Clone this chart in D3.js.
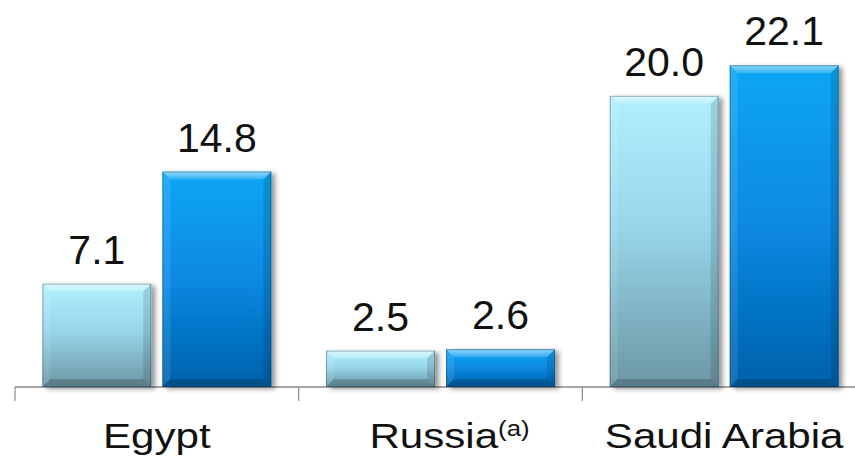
<!DOCTYPE html>
<html>
<head>
<meta charset="utf-8">
<script src="https://cdn.jsdelivr.net/npm/d3@7/dist/d3.min.js"></script>
<style>
  html, body { margin: 0; padding: 0; background: #fff; }
  svg { display: block; }
  text { font-family: "Liberation Sans", Arial, sans-serif; fill: #111; }
</style>
</head>
<body>
<svg id="chart" width="855" height="460"></svg>
<script>
// Data
const categories = ["Egypt", "Russia", "Saudi Arabia"];
const superscripts = ["", "(a)", ""];
const seriesNames = ["first", "second"];
const firstValues = [7.1, 2.5, 20.0];
const secondValues = [14.8, 2.6, 22.1];
const valueLabels = [["7.1", "2.5", "20.0"], ["14.8", "2.6", "22.1"]];

const W = 855, H = 460;
const baseline = 387;
const svg = d3.select("#chart");

const x = d3.scaleBand().domain(categories).range([15, 866]).paddingInner(0).paddingOuter(0);
const xs = d3.scaleBand().domain(seriesNames).range([0, x.bandwidth()])
  .paddingInner(0.092).paddingOuter(0.228);
const y = d3.scaleLinear().domain([0, 25]).range([baseline, 23]);

const defs = svg.append("defs");
const grads = {
  first: [["0%", "#b0f0fd"], ["45%", "#98d6ea"], ["100%", "#6c96a4"]],
  second: [["0%", "#07a6f5"], ["50%", "#0789e2"], ["100%", "#0561ab"]]
};
Object.entries(grads).forEach(([k, stops]) => {
  const g = defs.append("linearGradient").attr("id", "g-" + k)
    .attr("x1", 0).attr("y1", 0).attr("x2", 0).attr("y2", 1);
  stops.forEach(s => g.append("stop").attr("offset", s[0]).attr("stop-color", s[1]));
});
const tg = defs.append("linearGradient").attr("id", "bevelTop")
  .attr("x1", 0).attr("y1", 0).attr("x2", 0).attr("y2", 1);
tg.append("stop").attr("offset", "0%").attr("stop-color", "#fff").attr("stop-opacity", 0.55);
tg.append("stop").attr("offset", "100%").attr("stop-color", "#fff").attr("stop-opacity", 0.15);

const shadow = defs.append("filter").attr("id", "shadow")
  .attr("x", "-10%").attr("y", "-10%").attr("width", "130%").attr("height", "130%");
shadow.append("feDropShadow").attr("dx", 4).attr("dy", 2).attr("stdDeviation", 2.5)
  .attr("flood-color", "#000").attr("flood-opacity", 0.4);

// Axis baseline and category separators
const axis = d3.axisBottom(x).tickSize(0).tickFormat("");
const axisG = svg.append("g").attr("transform", `translate(0,${baseline})`).call(axis);
axisG.select(".domain").attr("stroke", "#8a8a8a").attr("stroke-width", 1.5)
  .attr("d", `M15,0H${W}`);
const bounds = categories.map(c => x(c)).concat([x(categories[categories.length - 1]) + x.bandwidth()]);
axisG.selectAll(".sep").data(bounds).join("line").attr("class", "sep")
  .attr("x1", d => d).attr("x2", d => d).attr("y1", 0).attr("y2", 14)
  .attr("stroke", "#8a8a8a").attr("stroke-width", 1.2);

// Bars
const rows = [];
categories.forEach((c, i) => {
  rows.push({ cat: c, s: "first", v: firstValues[i], label: valueLabels[0][i] });
  rows.push({ cat: c, s: "second", v: secondValues[i], label: valueLabels[1][i] });
});

const b = 8;
svg.append("g").selectAll("g.bar").data(rows).join("g").attr("class", "bar")
  .each(function (d) {
    const g = d3.select(this);
    const bx = x(d.cat) + xs(d.s), bw = xs.bandwidth();
    const by = y(d.v), bh = baseline - y(d.v);
    g.append("rect").attr("x", bx).attr("y", by).attr("width", bw).attr("height", bh)
      .attr("fill", `url(#g-${d.s})`).attr("filter", "url(#shadow)");
    const poly = pts => pts.map(p => p.join(",")).join(" ");
    g.append("polygon").attr("points", poly([[bx, by], [bx + bw, by], [bx + bw - b, by + b], [bx + b, by + b]]))
      .attr("fill", "url(#bevelTop)");
    g.append("polygon").attr("points", poly([[bx, by], [bx + b, by + b], [bx + b, by + bh - b], [bx, by + bh]]))
      .attr("fill", "#fff").attr("fill-opacity", 0.1);
    g.append("polygon").attr("points", poly([[bx + bw, by], [bx + bw, by + bh], [bx + bw - b, by + bh - b], [bx + bw - b, by + b]]))
      .attr("fill", "#000").attr("fill-opacity", 0.12);
    g.append("polygon").attr("points", poly([[bx, by + bh], [bx + bw, by + bh], [bx + bw - b, by + bh - b], [bx + b, by + bh - b]]))
      .attr("fill", "#000").attr("fill-opacity", 0.18);
    g.append("rect").attr("x", bx + 0.5).attr("y", by + 0.5).attr("width", bw - 1).attr("height", bh - 1)
      .attr("fill", "none").attr("stroke", "#0d2f45").attr("stroke-opacity", 0.35);
    g.append("text").attr("x", bx + bw / 2).attr("y", by - 20)
      .attr("text-anchor", "middle").attr("font-size", 41).text(d.label);
  });

// Category labels
categories.forEach((c, i) => {
  const cx = x(c) + x.bandwidth() / 2 + (superscripts[i] ? 9 : 0);
  const t = svg.append("text")
    .attr("transform", `translate(${cx},448) scale(1.17,1)`)
    .attr("text-anchor", "middle").attr("font-size", 36);
  t.append("tspan").text(c);
  if (superscripts[i]) {
    t.append("tspan").attr("font-size", 22).attr("dy", -12).text(superscripts[i]);
  }
});
</script>
</body>
</html>
